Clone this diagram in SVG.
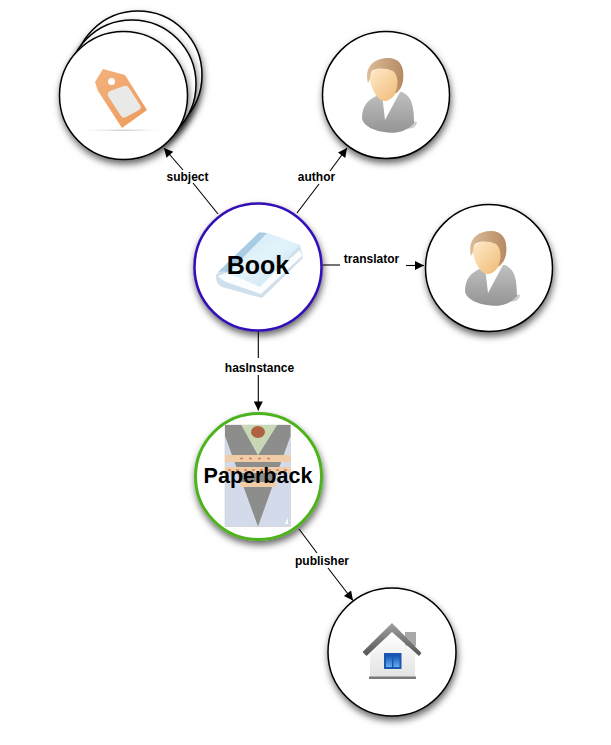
<svg xmlns="http://www.w3.org/2000/svg" width="611" height="745" viewBox="0 0 611 745">
<style>
.n{fill:#fff;stroke:#000;stroke-width:1.5;filter:url(#s)}
.e{stroke:#000;stroke-width:1.100;fill:none;marker-end:url(#a)}
.e0{stroke:#000;stroke-width:1.100;fill:none}
.l{font:bold 12px "Liberation Sans",Arial,sans-serif;text-anchor:middle;fill:#000}
.t{font-family:"Liberation Sans",Arial,sans-serif;font-weight:bold;text-anchor:middle;fill:#000}
</style>
<defs>
<filter id="s" x="-20%" y="-20%" width="145%" height="145%"><feDropShadow dx="1" dy="4" stdDeviation="3.500" flood-color="#000" flood-opacity=".6"/></filter>
<filter id="b" x="-20%" y="-20%" width="140%" height="140%"><feGaussianBlur stdDeviation=".5"/></filter>
<marker id="a" viewBox="0 0 10 10" refX="10" refY="5" markerWidth="11" markerHeight="9" markerUnits="userSpaceOnUse" orient="auto"><path d="M0 0L10 5L0 10z" fill="#000"/></marker>
<linearGradient id="face" x1="0" y1="0" x2="1" y2="1"><stop offset="0" stop-color="#ffeccb"/><stop offset="1" stop-color="#efb772"/></linearGradient>
<linearGradient id="hair" x1="0" y1="0" x2="1" y2="0"><stop offset="0" stop-color="#dcbc98"/><stop offset="1" stop-color="#b58a62"/></linearGradient>
<linearGradient id="body" x1="0" y1="0" x2="0" y2="1"><stop offset="0" stop-color="#c0c0c0"/><stop offset="1" stop-color="#949494"/></linearGradient>
<linearGradient id="tag" x1="0" y1="0" x2="1" y2="1"><stop offset="0" stop-color="#f3b27c"/><stop offset="1" stop-color="#ee9a5c"/></linearGradient>
<linearGradient id="shl" x1="0" y1="0" x2="1" y2="0"><stop offset="0" stop-color="#ddd" stop-opacity="0"/><stop offset=".5" stop-color="#d0d0d0"/><stop offset="1" stop-color="#ddd" stop-opacity="0"/></linearGradient>
<linearGradient id="bk" x1="0" y1="0" x2="1" y2="1"><stop offset="0" stop-color="#cfe6f4"/><stop offset=".5" stop-color="#e2f3fb"/><stop offset="1" stop-color="#c9e2f1"/></linearGradient>
<linearGradient id="roof" x1="0" y1="0" x2="0" y2="1"><stop offset="0" stop-color="#a0a0a0"/><stop offset="1" stop-color="#555"/></linearGradient>
<linearGradient id="win" x1="0" y1="0" x2="0" y2="1"><stop offset="0" stop-color="#1450b4"/><stop offset="1" stop-color="#62aef0"/></linearGradient>
<linearGradient id="wall" x1="0" y1="0" x2="0" y2="1"><stop offset="0" stop-color="#fff"/><stop offset="1" stop-color="#e2e2e2"/></linearGradient>
<g id="person" filter="url(#b)">
<path d="M20 25L31 27Q31 30 27 33L20 34z" fill="#ccc"/>
<path d="M-24 24C-24 10-18 5-8 0L-4 -2L16 -3C24 1 28 7 28 28C20 38 6 39-2 37C-10 36-22 32-24 24z" fill="url(#body)"/>
<path d="M-4 -1L14 -3L-1 25z" fill="#fff"/>
<path d="M-3 -16L13 -16L12 -3L0 4z" fill="#f0c08a"/>
<path d="M-16 -17C-16 -30 14 -32 14 -14C13 -2 4 7 -2 6C-9 5-16 -8-16 -17z" fill="url(#face)"/>
<path d="M-18 -12C-22 -28-12 -37 2 -37C14 -37 19 -28 17 -14C16 -8 13 -3 9 -2C13 -10 12 -20 7 -24C-1 -28-14 -27-15 -22C-16 -18-16 -15-18 -12z" fill="url(#hair)"/>
</g>
</defs>
<g id="connectors">
<path class="e0" d="M218 214L193 183"/><path class="e" d="M183 170L164 148"/>
<path class="e0" d="M297 213L319 184"/><path class="e" d="M330 171L347 148"/>
<path class="e0" d="M322 265H340"/><path class="e" d="M406 265.500H424"/>
<path class="e0" d="M258.300 330V358"/><path class="e" d="M258.300 375V410.500"/>
<path class="e0" d="M299 529L317 553"/><path class="e" d="M328 568L353 600.500"/>
</g>
<g id="labels">
<text class="l" x="187.500" y="181">subject</text>
<text class="l" x="316.500" y="181">author</text>
<text class="l" x="371.500" y="263">translator</text>
<text class="l" x="259.500" y="372">hasInstance</text>
<text class="l" x="322" y="565">publisher</text>
</g>
<g id="subject">
<circle class="n" cx="138" cy="75" r="64"/>
<circle class="n" cx="132" cy="84" r="64"/>
<circle class="n" cx="123.500" cy="95.500" r="64"/>
<rect x="86" y="129.500" width="73" height="1.500" fill="url(#shl)"/>
<g filter="url(#b)">
<path d="M103 69L125 75L147 110L122 128L98 91L95 82Z" fill="url(#tag)"/>
<path d="M108 96Q107 93 110 91L124 86Q127 85 129 88L140 105Q142 108 139 110L126 117Q123 119 121 116Z" fill="#e9e9e7"/>
<circle cx="111.500" cy="81.500" r="3.500" fill="#fff"/>
</g>
</g>
<g id="author">
<circle class="n" cx="386" cy="95" r="63.500"/>
<use href="#person" x="386" y="95"/>
</g>
<g id="translator">
<circle class="n" cx="489" cy="268" r="63.500"/>
<use href="#person" x="489" y="268"/>
</g>
<g id="book">
<circle cx="258" cy="267" r="64.800" fill="none" stroke="#ffc98a" stroke-width="1" opacity=".5"/>
<circle cx="258" cy="267" r="63.500" fill="#fff" stroke="#3311bb" stroke-width="2.500" filter="url(#s)"/>
<g filter="url(#b)">
<path d="M216 275L259 232.500L267 233L300 245L303 258L262 298L222 287Q215 283 216 275Z" fill="#cfdfec"/>
<path d="M218 276Q222 281 232 284L261 294L302 256L300 250L260 285L226 273Z" fill="#fcfdff"/>
<path d="M217 273L259 232.500L267 233L300 245L260 287L226 272Q220 270 217 273Z" fill="url(#bk)"/>
<path d="M217 273L259 232.500L267 233L229 272L226 272Q220 270 217 273Z" fill="#a9cce4"/>
</g>
<text class="t" x="258" y="274" font-size="25">Book</text>
</g>
<g id="paperback">
<circle cx="258.500" cy="476.500" r="63" fill="#fff" stroke="#4db31a" stroke-width="3" filter="url(#s)"/>
<g filter="url(#b)" opacity=".88">
<rect x="225" y="425" width="65.500" height="101.500" fill="#ced7e8" stroke="#bbb" stroke-width=".5"/>
<path d="M225 425H241.500L258 455L277 425H290.500V436L258 526.500L225 436Z" fill="#7e7e7c"/>
<path d="M241.500 425H277L258 455Z" fill="#c2d3aa"/>
<ellipse cx="258" cy="432" rx="7" ry="6" fill="#a44e2a"/>
<rect x="225" y="455" width="65.500" height="7" fill="#f0c79c"/>
<rect x="225" y="467" width="65.500" height="6" fill="#f0c79c"/>
<rect x="240" y="482" width="36" height="5" fill="#f0c79c"/>
<path d="M240 458.500H276" stroke="#cc6b50" stroke-width="1.500" stroke-dasharray="3 6"/>
<path d="M228 470H288" stroke="#cc6b50" stroke-width="1.500" stroke-dasharray="3 5"/>
<path d="M285 524L288 518V524Z" fill="#fff"/>
</g>
<text class="t" x="258" y="483" font-size="21.500">Paperback</text>
</g>
<g id="publisher">
<circle class="n" cx="392" cy="652" r="64"/>
<g filter="url(#b)">
<rect x="405" y="632" width="11" height="14" fill="#a8a8a8"/>
<path d="M370 654L392 632L415 654V678H370Z" fill="url(#wall)"/>
<path d="M362.500 652L392 623L421.500 653L419 656L392 632L366.500 656Z" fill="url(#roof)"/>
<rect x="369" y="676.500" width="47" height="2.500" fill="#7a7a7a"/>
<rect x="384" y="653" width="17.500" height="16" fill="#1c56b0"/>
<rect x="386" y="655" width="6" height="12" fill="url(#win)"/>
<rect x="393.500" y="655" width="6" height="12" fill="url(#win)"/>
</g>
</g>
</svg>
